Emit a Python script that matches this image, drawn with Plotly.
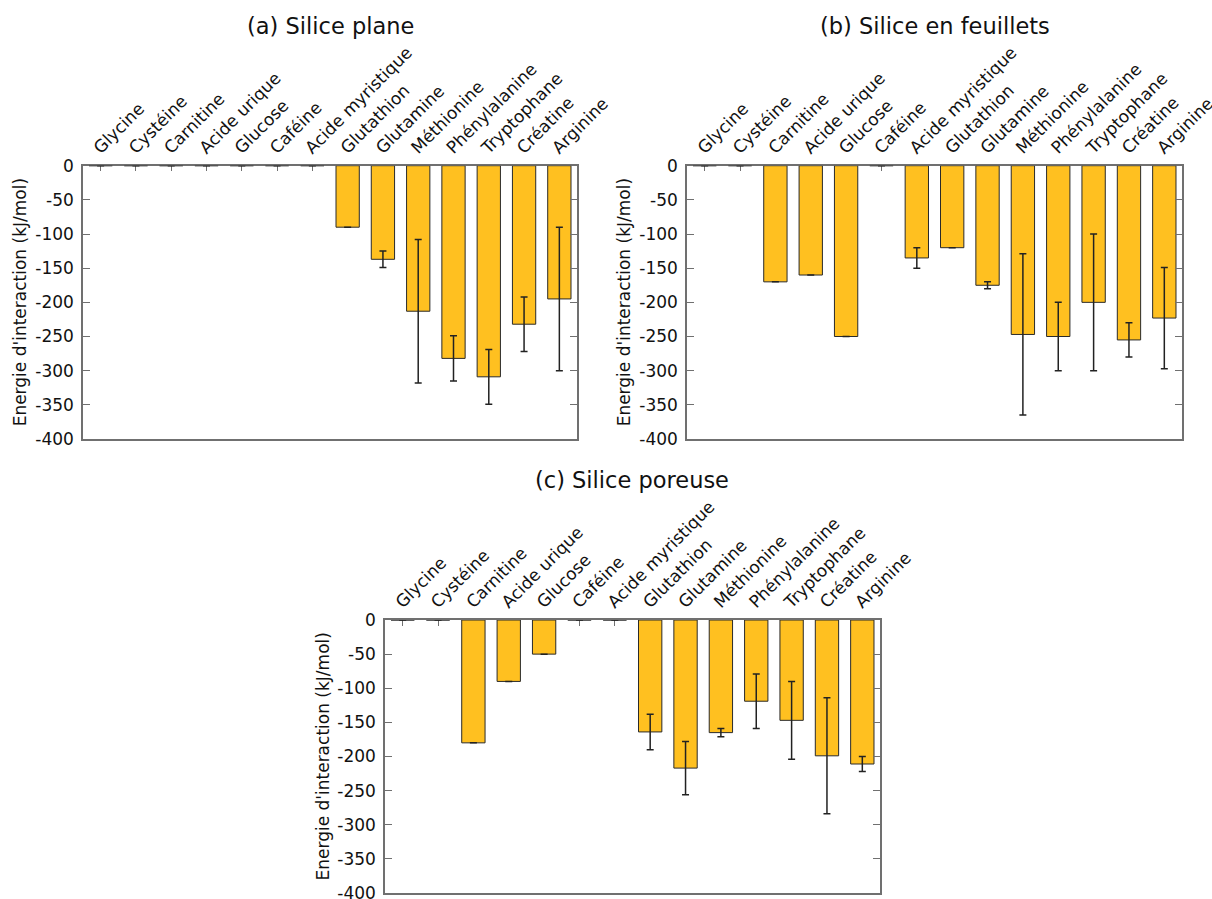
import plotly.graph_objects as go

categories = ["Glycine", "Cystéine", "Carnitine", "Acide urique", "Glucose", "Caféine",
              "Acide myristique", "Glutathion", "Glutamine", "Méthionine", "Phénylalanine",
              "Tryptophane", "Créatine", "Arginine"]

plane_values = [0, 0, 0, 0, 0, 0, 0, -90, -137, -213, -282, -309, -232, -195]
plane_errors = [0, 0, 0, 0, 0, 0, 0, 0, 12, 105, 33, 40, 40, 105]

feuillets_values = [0, 0, -170, -160, -250, 0, -135, -120, -175, -247, -250, -200, -255, -223]
feuillets_errors = [0, 0, 0, 0, 0, 0, 15, 0, 5, 118, 50, 100, 25, 74]

poreuse_values = [0, 0, -180, -90, -50, 0, 0, -164, -217, -165, -119, -147, -199, -211]
poreuse_errors = [0, 0, 0, 0, 0, 0, 0, 26, 39, 6, 40, 57, 85, 11]

titles = ["(a) Silice plane", "(b) Silice en feuillets", "(c) Silice poreuse"]
y_title = "Energie d'interaction (kJ/mol)"
y_ticks = [0, -50, -100, -150, -200, -250, -300, -350, -400]

W, H = 1212, 899
FONT = "DejaVu Sans"
BAR_COLOR = "#FFC020"
AXIS_COLOR = "#707070"
TEXT_COLOR = "#111111"

# panel pixel boxes: left, right, top, bottom
boxes = [(83, 577, 165.7, 439), (687, 1182, 165.7, 439), (385, 880, 620, 893)]
series = [(plane_values, plane_errors), (feuillets_values, feuillets_errors),
          (poreuse_values, poreuse_errors)]

fig = go.Figure()
annotations = []
for i, ((vals, errs), (l, r, t, b), title) in enumerate(zip(series, boxes, titles)):
    n = "" if i == 0 else str(i + 1)
    fig.add_trace(go.Bar(
        x=categories, y=vals,
        xaxis="x" + n, yaxis="y" + n,
        marker=dict(color=BAR_COLOR, line=dict(color="#2a2a2a", width=1)),
        error_y=dict(type="data", array=errs, visible=True, color="#222222",
                     thickness=1.5, width=3.5),
        showlegend=False, hoverinfo="x+y",
    ))
    xd = [l / W, r / W]
    yd = [1 - b / H, 1 - t / H]
    fig.update_layout(**{
        "xaxis" + n: dict(domain=xd, anchor="y" + n, side="top", type="category",
                          tickangle=-45, ticks="inside", ticklen=6, tickcolor=AXIS_COLOR,
                          showline=True, linecolor=AXIS_COLOR, linewidth=1.5, mirror=True,
                          showgrid=False, zeroline=False, layer="below traces",
                          automargin=False, ticklabelshift=-6, ticklabeloverflow="allow",
                          tickfont=dict(family=FONT, size=17, color=TEXT_COLOR),
                          range=[-0.5, 13.5]),
        "yaxis" + n: dict(domain=yd, anchor="x" + n, range=[-400, 0],
                          tickvals=y_ticks, ticktext=[str(v) for v in y_ticks],
                          ticks="inside", ticklen=7, tickcolor=AXIS_COLOR,
                          showline=True, linecolor=AXIS_COLOR, linewidth=1.5,
                          mirror="allticks", showgrid=False, zeroline=False,
                          ticklabelstandoff=4, automargin=False, ticklabeloverflow="allow",
                          tickfont=dict(family=FONT, size=17, color=TEXT_COLOR)),
    })
    annotations.append(dict(text=title, x=(l + r) / 2 / W, y=1 - (t - 140) / H,
                            xref="paper", yref="paper", showarrow=False,
                            xanchor="center", yanchor="middle",
                            font=dict(family=FONT, size=22.5, color=TEXT_COLOR)))
    annotations.append(dict(text=y_title, x=(l - 63) / W, y=1 - (t + b) / 2 / H,
                            xref="paper", yref="paper", showarrow=False, textangle=-90,
                            xanchor="center", yanchor="middle",
                            font=dict(family=FONT, size=17, color=TEXT_COLOR)))

fig.update_layout(width=W, height=H, margin=dict(l=0, r=0, t=0, b=0, autoexpand=False),
                  paper_bgcolor="white", plot_bgcolor="white",
                  bargap=0.34, annotations=annotations)

fig.write_html("out.html", config={"displayModeBar": False},
               post_script="document.body.style.margin='0';document.body.style.padding='0';")
